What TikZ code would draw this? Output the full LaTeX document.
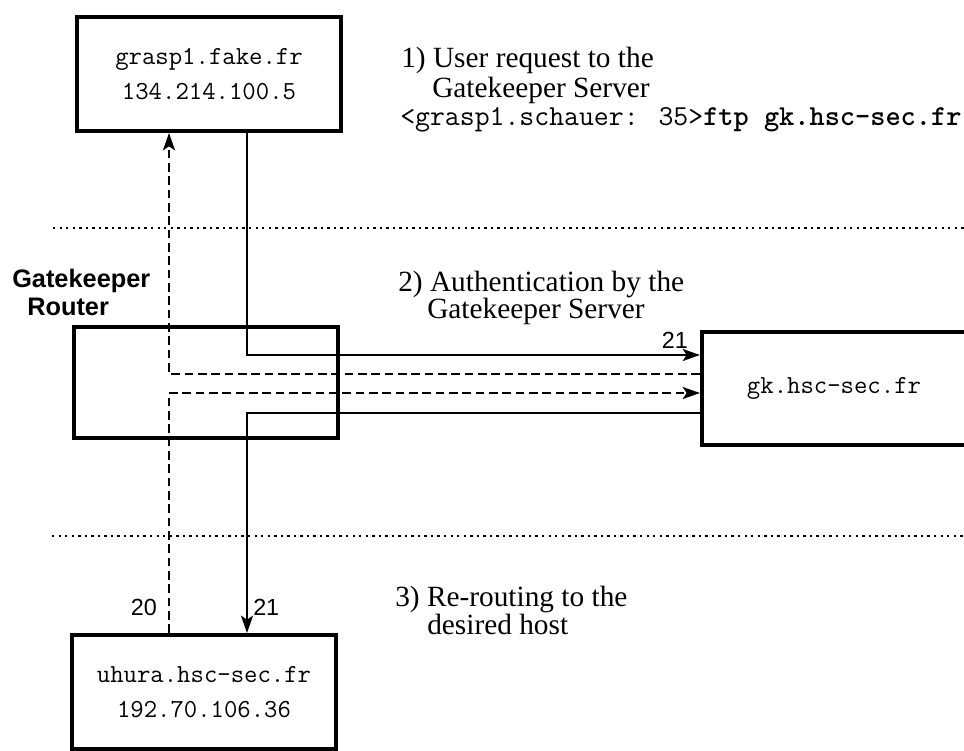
\documentclass[tikz,border=0pt]{standalone}
\usepackage{fontspec}
\setmainfont{Liberation Serif}
\setsansfont{Liberation Sans}
\usetikzlibrary{arrows.meta}
\begin{document}
\begin{tikzpicture}[x=0.75pt,y=-0.75pt,
  hostbox/.style={draw,line width=3pt,inner sep=0pt,align=center,
    minimum width=198pt,font=\ttfamily\fontsize{19.5}{26.5}\selectfont},
  conn/.style={line width=1.6pt},
  dconn/.style={line width=1.7pt,dash pattern=on 6.5pt off 3.5pt},
  dotline/.style={line width=1.8pt,dash pattern=on 1.8pt off 3.1pt},
  tip/.style={-{Stealth[length=13pt,width=9pt,inset=3pt]}},
  serif/.style={anchor=base west,inner sep=0pt,font=\fontsize{22}{24}\selectfont},
  cmd/.style={anchor=base west,inner sep=0pt,font=\ttfamily\fontsize{21.7}{24}\selectfont},
  router/.style={anchor=base west,inner sep=0pt,font=\sffamily\bfseries\fontsize{19}{22}\selectfont},
  port/.style={inner sep=0pt,font=\sffamily\fontsize{17.5}{20}\selectfont},
]
\useasboundingbox (0,0) rectangle (964,750);
\clip (0,0) rectangle (964,750);

% boxes
\node[hostbox,minimum height=85.5pt] (grasp) at (209,74) {grasp1.fake.fr\\134.214.100.5};
\node[draw,line width=3pt,inner sep=0pt,minimum width=198pt,minimum height=83.25pt] (router) at (206,382.5) {};
\node[hostbox,minimum height=84.75pt] (gk) at (834,388.5) {gk.hsc-sec.fr};
\node[hostbox,minimum height=85.5pt] (uhura) at (204,692) {uhura.hsc-sec.fr\\192.70.106.36};

% separators
\coordinate (d1a) at (53,228);  \coordinate (d1b) at (964,228);
\coordinate (d2a) at (52,536);  \coordinate (d2b) at (964,536);
\draw[dotline] (d1a) -- (d1b);
\draw[dotline] (d2a) -- (d2b);

% lanes
\coordinate (sx) at (247,0);
\coordinate (dx) at (169,0);
\coordinate (l1) at (0,355);
\coordinate (l2) at (0,374);
\coordinate (l3) at (0,393);
\coordinate (l4) at (0,413);

% connectors
\draw[conn,tip] (sx |- grasp.south) -- (sx |- l1) -- (gk.west |- l1);
\draw[conn,tip] (gk.west |- l4) -- (sx |- l4) -- (sx |- uhura.north);
\draw[dconn,tip] (gk.west |- l2) -- (dx |- l2) -- (dx |- grasp.south);
\draw[dconn,tip] (dx |- uhura.north) -- (dx |- l3) -- (gk.west |- l3);

% labels
\node[router] (gkr1) at (12,287) {Gatekeeper};
\node[router] (gkr2) at (27,315) {Router};

\node[port,anchor=base east] (p21a) at (688,348) {21};
\node[port,anchor=base east] (p20) at (157,615) {20};
\node[port,anchor=base west] (p21b) at (253,615) {21};

\node[serif] (s1a) at (401,67) {1) User request to the};
\node[serif] (s1b) at (432,97) {Gatekeeper Server};
\node[cmd] (c1) at (400,125) {<grasp1.schauer: 35>\textbf{ftp gk.hsc-sec.fr}};

\node[serif] (s2a) at (398,291) {2) Authentication by the};
\node[serif] (s2b) at (427,318) {Gatekeeper Server};

\node[serif] (s3a) at (395,606) {3) Re-routing to the};
\node[serif] (s3b) at (427,634) {desired host};
\end{tikzpicture}
\end{document}
